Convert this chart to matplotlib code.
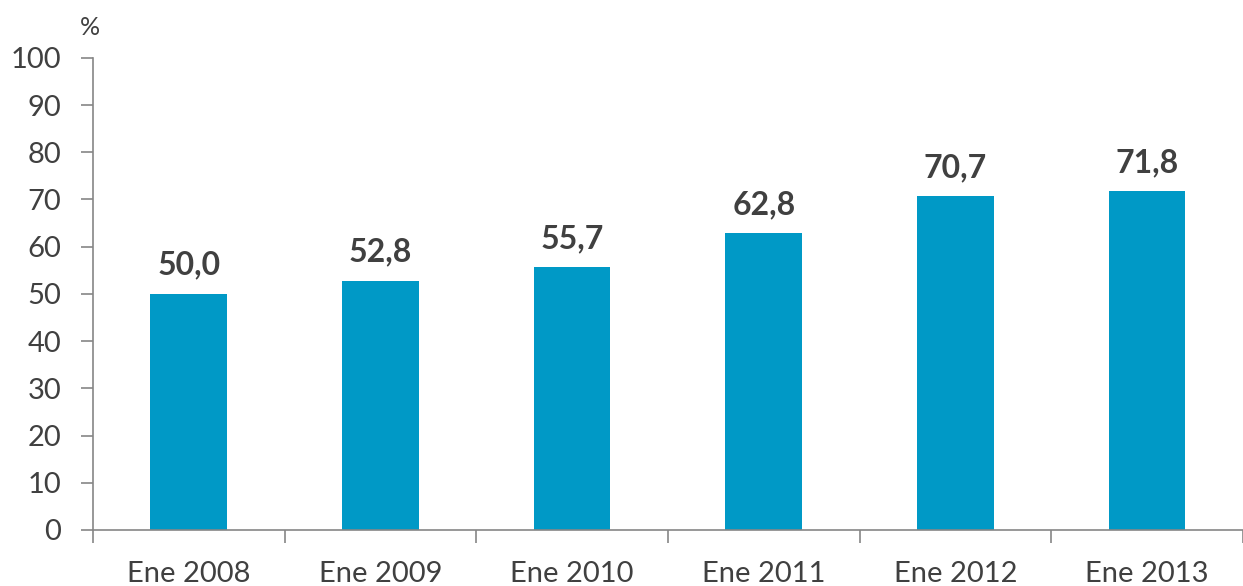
import numpy as np
import matplotlib.pyplot as plt

categories = ['Ene 2008', 'Ene 2009', 'Ene 2010', 'Ene 2011', 'Ene 2012', 'Ene 2013']
values = [50.0, 52.8, 55.7, 62.8, 70.7, 71.8]
yticks = list(range(0, 101, 10))

plt.rcParams['font.family'] = ['Lato', 'DejaVu Sans']
fig = plt.figure(figsize=(12.43, 5.86), dpi=100)
ax = fig.add_axes([0.0748, 0.0956, 0.9252, 0.8057])

x = np.arange(len(categories))
ax.bar(x, values, width=0.4, color='#0099C6')
for xi, v in zip(x, values):
    ax.text(xi, v + 3, f'{v:.1f}'.replace('.', ','), ha='center', va='bottom',
            fontsize=23, fontweight='bold', color='#404040')

ax.set_xlim(-0.5, len(categories) - 0.5)
ax.set_ylim(0, 100)
ax.set_yticks(yticks)
ax.set_yticklabels([str(t) for t in yticks], fontsize=21, color='#404040')
ax.set_xticks(x)
ax.set_xticklabels(categories, fontsize=21, color='#404040')
ax.tick_params(axis='x', length=0, pad=22)
ax.set_xticks(np.arange(len(categories) + 1) - 0.5, minor=True)
ax.tick_params(axis='x', which='minor', length=9, color='#868686', width=1.2)
ax.tick_params(axis='y', length=9, color='#868686', width=1.2, pad=14)
for s in ['top', 'right']:
    ax.spines[s].set_visible(False)
for s in ['left', 'bottom']:
    ax.spines[s].set_color('#868686')
    ax.spines[s].set_linewidth(1.2)
ax.text(-0.003, 1.04, '%', transform=ax.transAxes, fontsize=18, color='#404040',
        ha='center', va='bottom')

fig.savefig('out.png', dpi=100)
